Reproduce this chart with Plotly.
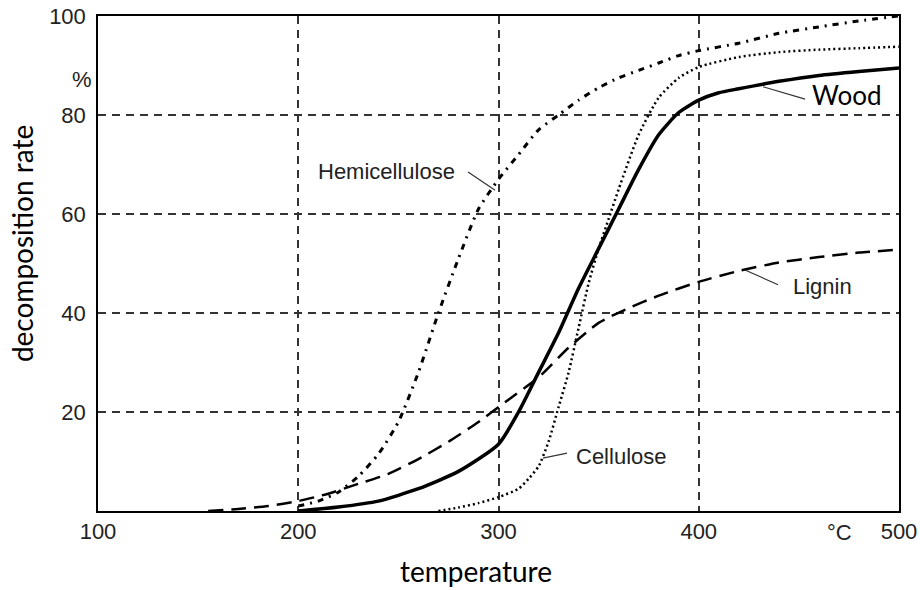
import plotly.graph_objects as go

# ---- data ----
wood_T = [200, 220, 240, 260, 280, 300, 310, 320, 330, 340, 350, 360, 370, 380, 390, 400, 410, 420, 440, 460, 480, 500]
wood_v = [0, 0.8, 2, 4.5, 8, 13.5, 20, 28, 36, 45, 53, 61, 69, 76, 80.5, 83, 84.5, 85.3, 86.8, 88, 88.8, 89.5]

hemi_T = [200, 210, 220, 230, 240, 250, 260, 270, 280, 290, 300, 310, 320, 330, 340, 350, 360, 370, 380, 390, 400, 420, 440, 460, 480, 500]
hemi_v = [1, 2, 3.8, 7, 11.5, 18, 28, 40, 51, 61, 67, 72, 77, 80, 83, 85.5, 87.5, 89, 90.5, 92, 93, 94.5, 96.5, 97.8, 99, 100]

cell_T = [270, 280, 290, 300, 310, 315, 320, 325, 330, 335, 340, 345, 350, 355, 360, 370, 380, 390, 400, 420, 440, 460, 480, 500]
cell_v = [0, 0.7, 1.6, 2.8, 4.5, 6.5, 9, 14, 21, 28, 37, 46, 53, 59, 65, 76, 83.5, 87.5, 89.7, 91.7, 92.7, 93.2, 93.5, 93.8]

lig_T = [155, 170, 185, 200, 215, 230, 245, 260, 275, 290, 305, 320, 335, 350, 365, 380, 400, 420, 440, 460, 480, 500]
lig_v = [0, 0.4, 1, 2, 3.5, 5.5, 7.5, 10.5, 14, 18, 22.5, 27, 33, 38, 41, 43.5, 46.3, 48.5, 50.2, 51.3, 52.2, 52.8]

x_ticks = [100, 200, 300, 400, 500]
y_ticks = [20, 40, 60, 80, 100]

labels = ["Hemicellulose", "Wood", "Lignin", "Cellulose"]
label_pos = [(244, 68.5), (474, 84), (462, 45.3), (361.5, 11.1)]
pointer_from = [(284.8, 68.5), (453.1, 83.2), (439.6, 45.7), (334.2, 11.7)]
pointer_to = [(298.3, 64.8), (432.1, 85.7), (423.1, 48.7), (322.2, 10.7)]

fig = go.Figure()
fig.add_trace(go.Scatter(x=lig_T, y=lig_v, mode="lines", line=dict(color="black", width=2.5, dash="15px,8px", shape="spline", smoothing=0.6)))
fig.add_trace(go.Scatter(x=hemi_T, y=hemi_v, mode="lines", line=dict(color="black", width=3, dash="6px,6px,2px,6px", shape="spline", smoothing=0.6)))
fig.add_trace(go.Scatter(x=cell_T, y=cell_v, mode="lines", line=dict(color="black", width=2.5, dash="2px,3px", shape="spline", smoothing=0.6)))
fig.add_trace(go.Scatter(x=wood_T, y=wood_v, mode="lines", line=dict(color="black", width=3.5, shape="spline", smoothing=0.6)))

tickfont = dict(family="Liberation Sans, Arial", size=22, color="#222")
titlefont = dict(family="Lato, Open Sans", size=28, color="black")
woodfont = dict(family="Lato, Open Sans", size=26, color="black")

for (txt, (tx, ty), (fx, fy), (px, py)) in zip(labels, label_pos, pointer_from, pointer_to):
    fnt = woodfont if txt == "Wood" else tickfont
    fig.add_annotation(x=tx, y=ty, text=txt, showarrow=False, font=fnt, xanchor="center", yanchor="middle")
    fig.add_shape(type="line", x0=fx, y0=fy, x1=px, y1=py, line=dict(color="#333", width=1.2))

fig.add_annotation(x=-0.035, y=0.90, xref="paper", yref="paper", text="%", showarrow=False, font=tickfont)
fig.add_annotation(x=470.5, y=-0.044, yref="paper", text="°C", showarrow=False, font=tickfont, yanchor="middle")
fig.add_annotation(x=0.472, y=-0.122, xref="paper", yref="paper", text="temperature", showarrow=False, font=titlefont,
                   yanchor="middle", borderpad=0)
fig.add_annotation(x=-0.095, y=0.541, xref="paper", yref="paper", text="decomposition rate", textangle=-90, showarrow=False, font=titlefont, xanchor="center", yanchor="middle")

grid = dict(showgrid=True, gridcolor="#333", griddash="8px,6px", gridwidth=1.5, zeroline=False, automargin=False,
            showline=True, linecolor="black", linewidth=1.5, mirror=True, ticks="")

fig.update_xaxes(range=[100, 500], tickvals=x_ticks, ticktext=[str(v) for v in x_ticks], tickfont=tickfont, **grid)
fig.update_yaxes(range=[0, 100], tickvals=y_ticks, ticktext=[str(v) for v in y_ticks], tickfont=tickfont, ticklabelstandoff=6, **grid)

fig.update_layout(width=920, height=590, margin=dict(l=98, r=21, t=16, b=79),
                  plot_bgcolor="white", paper_bgcolor="white", showlegend=False)

fig.write_html("out.html")
